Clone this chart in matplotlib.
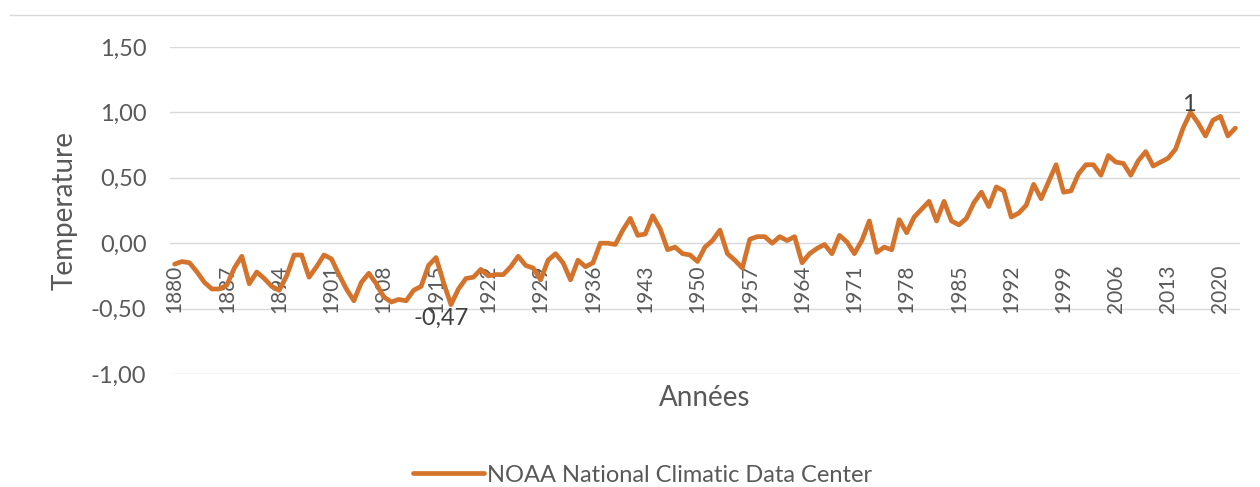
import matplotlib
matplotlib.use("Agg")
import matplotlib.pyplot as plt
from matplotlib.ticker import FuncFormatter
from matplotlib.lines import Line2D

# Anomalies de température (NOAA), 1880-2022
years = list(range(1880, 2023))
temps = [
    -0.16, -0.14, -0.15, -0.22, -0.30, -0.35, -0.35, -0.32, -0.19, -0.10,  # 1880
    -0.31, -0.22, -0.27, -0.33, -0.36, -0.25, -0.09, -0.09, -0.26, -0.18,  # 1890
    -0.09, -0.12, -0.24, -0.35, -0.44, -0.30, -0.23, -0.31, -0.41, -0.45,  # 1900
    -0.43, -0.44, -0.36, -0.33, -0.17, -0.11, -0.30, -0.47, -0.35, -0.27,  # 1910
    -0.26, -0.20, -0.25, -0.24, -0.24, -0.18, -0.10, -0.17, -0.19, -0.28,  # 1920
    -0.13, -0.08, -0.15, -0.28, -0.13, -0.18, -0.15, 0.00, 0.00, -0.01,    # 1930
    0.10, 0.19, 0.06, 0.07, 0.21, 0.11, -0.05, -0.03, -0.08, -0.09,        # 1940
    -0.14, -0.03, 0.02, 0.10, -0.08, -0.13, -0.19, 0.03, 0.05, 0.05,       # 1950
    0.00, 0.05, 0.02, 0.05, -0.15, -0.08, -0.04, -0.01, -0.08, 0.06,       # 1960
    0.01, -0.08, 0.02, 0.17, -0.07, -0.03, -0.05, 0.18, 0.08, 0.20,        # 1970
    0.26, 0.32, 0.17, 0.32, 0.17, 0.14, 0.19, 0.31, 0.39, 0.28,            # 1980
    0.43, 0.40, 0.20, 0.23, 0.29, 0.45, 0.34, 0.47, 0.60, 0.39,            # 1990
    0.40, 0.53, 0.60, 0.60, 0.52, 0.67, 0.62, 0.61, 0.52, 0.63,            # 2000
    0.70, 0.59, 0.62, 0.65, 0.72, 0.88, 1.00, 0.92, 0.82, 0.94,            # 2010
    0.97, 0.82, 0.88,                                                      # 2020
]
tick_years = [1880, 1887, 1894, 1901, 1908, 1915, 1922, 1929, 1936, 1943, 1950,
              1957, 1964, 1971, 1978, 1985, 1992, 1999, 2006, 2013, 2020]
y_ticks = [-1.0, -0.5, 0.0, 0.5, 1.0, 1.5]

serie = "NOAA National Climatic Data Center"
orange = "#D4732C"
gris = "#595959"

plt.rcParams['font.family'] = ['Lato', 'DejaVu Sans']

fig = plt.figure(figsize=(12.6, 4.87), dpi=100)
ax = fig.add_axes([0.135, 1 - 374 / 487, 0.849, (374 - 47) / 487])

ax.plot(years, temps, color=orange, lw=3.4, solid_joinstyle="round",
        solid_capstyle="round", label=serie, zorder=3)

ax.set_xlim(years[0] - 0.6, years[-1] + 0.6)
ax.set_ylim(-1.0, 1.5)
ax.set_yticks(y_ticks)
ax.yaxis.set_major_formatter(FuncFormatter(lambda v, p: f"{v:.2f}".replace(".", ",")))
ax.tick_params(axis="y", length=0, labelsize=17, labelcolor=gris, pad=17)
ax.set_xticks([])
ax.grid(axis="y", color="#d9d9d9", lw=1)
for s in ax.spines.values():
    s.set_visible(False)

# étiquettes d'années, verticales, posées sur la ligne -0,50
for yr in tick_years:
    ax.text(yr, -0.535, str(yr), rotation=90, ha="center", va="bottom",
            fontsize=15, color=gris, zorder=2)

# étiquettes de données (max / min)
i_max = temps.index(max(temps))
i_min = temps.index(min(temps))
ax.annotate("1", (years[i_max], temps[i_max]), xytext=(-1, 6),
            textcoords="offset points", ha="center", va="center",
            fontsize=17, color="#404040", zorder=4)
ax.annotate(f"{temps[i_min]:.2f}".replace(".", ","), (years[i_min], temps[i_min]),
            xytext=(-7, -10), textcoords="offset points", ha="center", va="center",
            fontsize=17, color="#404040", zorder=4)

fig.text(65 / 1260, 1 - 210 / 487, "Temperature", rotation=90, ha="center",
         va="center", fontsize=20, color=gris)
fig.text(705 / 1260, 1 - 398 / 487, "Années", ha="center", va="center",
         fontsize=20, color=gris)

# bordure haute du graphique
fig.add_artist(Line2D([0.008, 1.0], [1 - 15 / 487] * 2, color="#d9d9d9", lw=1))

leg = fig.legend(loc="center", bbox_to_anchor=(0.51, 1 - 475 / 487), frameon=False,
                 fontsize=17, handlelength=3.0, handletextpad=0.15)
for t in leg.get_texts():
    t.set_color(gris)

fig.savefig("out.png", dpi=100, facecolor="white")
